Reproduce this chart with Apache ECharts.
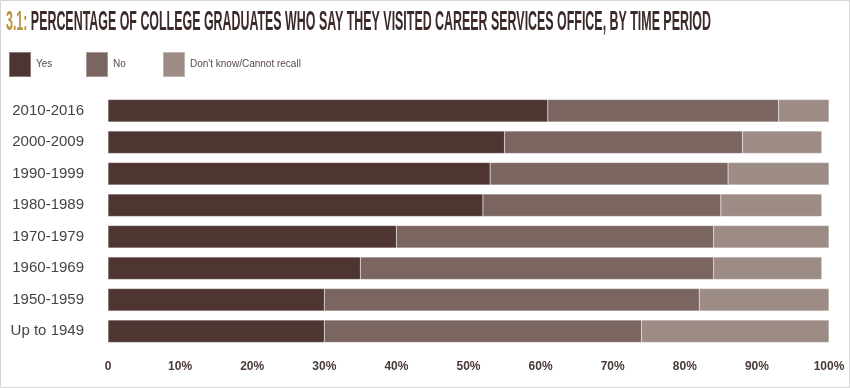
<!DOCTYPE html>
<html><head><meta charset="utf-8">
<script src="https://cdn.jsdelivr.net/npm/echarts@6/dist/echarts.min.js"></script>
<style>html,body{margin:0;padding:0;background:#fff}#c{width:850px;height:388px}</style>
</head><body><div id="c"></div>
<script>
const categories = ['2010-2016','2000-2009','1990-1999','1980-1989','1970-1979','1960-1969','1950-1959','Up to 1949'];
const yesValues = [61, 55, 53, 52, 40, 35, 30, 30];
const noValues = [32, 33, 33, 33, 44, 49, 52, 44];
const dkValues = [7, 11, 14, 14, 16, 15, 18, 26];
const seriesNames = ['Yes', 'No', "Don't know/Cannot recall"];
const colors = ['#4f3532', '#7a6560', '#9d8b85'];
const titleNum = '3.1:';
const titleText = 'PERCENTAGE OF COLLEGE GRADUATES WHO SAY THEY VISITED CAREER SERVICES OFFICE, BY TIME PERIOD';

const TF = 'bold 27px "Liberation Sans"';
const ctx = document.createElement('canvas').getContext('2d');
ctx.font = TF;
const fullW = ctx.measureText(titleNum + ' ' + titleText).width;
const sx = 705 / fullW;
const numW = ctx.measureText(titleNum + ' ').width;

const chart = echarts.init(document.getElementById('c'));
const legendLefts = [8, 85, 162];
const option = {
  animation: false,
  color: colors,
  grid: {left: 108, right: 21, top: 95, bottom: 41},
  graphic: [
    {type: 'rect', shape: {x: 0.5, y: 0.5, width: 849, height: 387}, style: {fill: 'none', stroke: '#d6d6d6', lineWidth: 1}, silent: true},
    {type: 'group', x: 6, y: 9, scaleX: sx, children: [
      {type: 'text', x: 0, y: 0, style: {text: titleNum, font: TF, fill: '#b8943c'}},
      {type: 'text', x: numW, y: 0, style: {text: titleText, font: TF, fill: '#3b2a29'}}
    ]}
  ],
  legend: seriesNames.map((n, i) => ({
    data: [n], left: legendLefts[i], top: 51, itemWidth: 22, itemHeight: 25, icon: 'rect', itemGap: 0,
    textStyle: {fontFamily: 'Liberation Sans', fontSize: 10, color: '#5a4a48', padding: [-4, 0, 0, 0]},
    padding: 0
  })),
  xAxis: {
    type: 'value', min: 0, max: 100, interval: 10,
    axisLine: {show: false}, axisTick: {show: false}, splitLine: {show: false},
    axisLabel: {formatter: v => v === 0 ? '0' : v + '%', fontFamily: 'Liberation Sans', fontWeight: 'bold', fontSize: 12, color: '#4a3a38', margin: 14}
  },
  yAxis: {
    type: 'category', data: categories, inverse: true,
    axisLine: {show: false}, axisTick: {show: false},
    axisLabel: {fontFamily: 'Liberation Sans', fontSize: 15, color: '#444', margin: 24}
  },
  series: [yesValues, noValues, dkValues].map((d, i) => ({
    name: seriesNames[i], type: 'bar', stack: 'total', data: d, barWidth: '71%',
    itemStyle: {color: colors[i], borderColor: 'rgba(255,255,255,0.35)', borderWidth: 0.5}
  }))
};
chart.setOption(option);
</script></body></html>
